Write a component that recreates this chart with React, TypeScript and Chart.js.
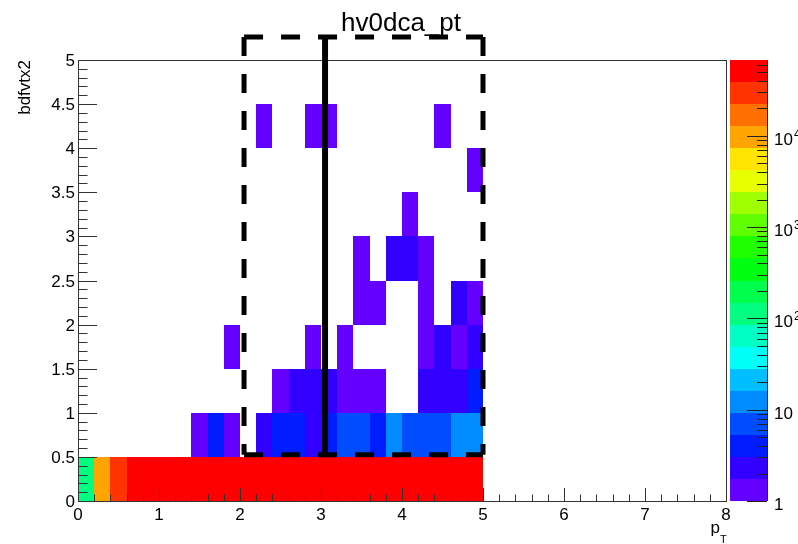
import { useEffect, useRef } from "react";
import { Chart, registerables } from "chart.js";

Chart.register(...registerables);

// Binning of the 2D histogram hv0dca_pt (pT on x, bdfvtx2 on y)
const ptBinWidth = 0.2;
const dcaBinWidth = 0.5;

// Bin contents per bdfvtx2 row (0-0.5, 0.5-1, ...), pT bins 0.0-0.2 ... 4.8-5.0; bins above 5 are empty
const row0 = [120, 9800, 30000, 65000, 63000, 61000, 59000, 57000, 55000, 53000, 51000, 49500, 48000, 46500, 45000, 44000, 43000, 42000, 41500, 41000, 40500, 40000, 39800, 39500, 39200];
const row1 = [0, 0, 0, 0, 0, 0, 0, 1, 4, 1, 0, 2, 4, 5, 3, 4, 7, 6, 4, 12, 8, 7, 6, 11, 13];
const row2 = [0, 0, 0, 0, 0, 0, 0, 0, 0, 0, 0, 0, 1, 2, 3, 2, 1, 1, 1, 0, 0, 2, 3, 2, 4];
const row3 = [0, 0, 0, 0, 0, 0, 0, 0, 0, 1, 0, 0, 0, 0, 1, 0, 1, 0, 0, 0, 0, 1, 2, 1, 2];
const row4 = [0, 0, 0, 0, 0, 0, 0, 0, 0, 0, 0, 0, 0, 0, 0, 0, 0, 1, 1, 0, 0, 1, 0, 2, 1];
const row5 = [0, 0, 0, 0, 0, 0, 0, 0, 0, 0, 0, 0, 0, 0, 0, 0, 0, 1, 0, 2, 2, 1, 0, 0, 0];
const row6 = [0, 0, 0, 0, 0, 0, 0, 0, 0, 0, 0, 0, 0, 0, 0, 0, 0, 0, 0, 0, 1, 0, 0, 0, 0];
const row7 = [0, 0, 0, 0, 0, 0, 0, 0, 0, 0, 0, 0, 0, 0, 0, 0, 0, 0, 0, 0, 0, 0, 0, 0, 1];
const row8 = [0, 0, 0, 0, 0, 0, 0, 0, 0, 0, 0, 1, 0, 0, 1, 1, 0, 0, 0, 0, 0, 0, 1, 0, 0];
const row9 = [0, 0, 0, 0, 0, 0, 0, 0, 0, 0, 0, 0, 0, 0, 0, 0, 0, 0, 0, 0, 0, 0, 0, 0, 0];
const rows = [row0, row1, row2, row3, row4, row5, row6, row7, row8, row9];

// Axis ranges and labels
const ptRange = [0, 8];
const dcaRange = [0, 5];
const xTickLabels = ["0", "1", "2", "3", "4", "5", "6", "7", "8"];
const yTickLabels = ["0", "0.5", "1", "1.5", "2", "2.5", "3", "3.5", "4", "4.5", "5"];

// Colour scale (log z)
const zMin = 1;
const zMax = 67600;
const zTickValues = [1, 10, 100, 1000, 10000];
const zTickBases = ["1", "10", "10", "10", "10"];
const zTickExps = ["", "", "2", "3", "4"];
const paletteColors = [
  "#6400ff", "#3200ff", "#001cff", "#004cff", "#008cff",
  "#00beff", "#00fff6", "#00ffc4", "#00ff80", "#00ff4c",
  "#00ff10", "#20ff00", "#60ff00", "#a0ff00", "#e8ff00",
  "#ffe400", "#ffa400", "#ff7000", "#ff3400", "#ff0000",
];

// Selection overlay: dashed window and solid cut line
const windowPt = [2.05, 5.0];
const windowDca = [0.525, 5.26];
const cutPt = 3.05;
const cutDca = [0.5, 5.26];

const FONT = "'Liberation Sans', Arial, Helvetica, sans-serif";

type Cell = { x: number; y: number; v: number };

const cells: Cell[] = [];
rows.forEach((row, iy) => {
  row.forEach((v, ix) => {
    if (v > 0) {
      cells.push({ x: (ix + 0.5) * ptBinWidth, y: (iy + 0.5) * dcaBinWidth, v });
    }
  });
});

const nBands = paletteColors.length;
const logSpan = Math.log10(zMax) - Math.log10(zMin);

function colorFor(v: number): string {
  const k = Math.floor((nBands * (Math.log10(v) - Math.log10(zMin))) / logSpan);
  return paletteColors[Math.max(0, Math.min(nBands - 1, k))];
}

const hist2dPlugin = {
  id: "hist2d",
  beforeDatasetsDraw(chart: any) {
    const { ctx } = chart;
    const x = chart.scales.x;
    const y = chart.scales.y;
    const data = chart.data.datasets[0].data as Cell[];
    ctx.save();
    for (const c of data) {
      const l = Math.round(x.getPixelForValue(c.x - ptBinWidth / 2));
      const r = Math.round(x.getPixelForValue(c.x + ptBinWidth / 2));
      const t = Math.round(y.getPixelForValue(c.y + dcaBinWidth / 2));
      const b = Math.round(y.getPixelForValue(c.y - dcaBinWidth / 2));
      ctx.fillStyle = colorFor(c.v);
      ctx.fillRect(l, t, r - l, b - t);
    }
    ctx.restore();
  },
};

const framePlugin = {
  id: "rootFrame",
  afterDraw(chart: any) {
    const { ctx, chartArea: ca } = chart;
    const x = chart.scales.x;
    const y = chart.scales.y;
    const z = chart.scales.z;
    ctx.save();

    // frame
    ctx.strokeStyle = "#333";
    ctx.lineWidth = 1;
    ctx.strokeRect(ca.left + 0.5, ca.top + 0.5, ca.right - ca.left, ca.bottom - ca.top);

    // x ticks (inside, from bottom)
    ctx.beginPath();
    for (let i = 0; i <= 40; i++) {
      const px = Math.round(x.getPixelForValue(i * 0.2)) + 0.5;
      const len = i % 5 === 0 ? 13 : 6.5;
      ctx.moveTo(px, ca.bottom);
      ctx.lineTo(px, ca.bottom - len);
    }
    // y ticks (inside, from left)
    for (let i = 0; i <= 50; i++) {
      const py = Math.round(y.getPixelForValue(i * 0.1)) + 0.5;
      const len = i % 5 === 0 ? 19 : 9.5;
      ctx.moveTo(ca.left, py);
      ctx.lineTo(ca.left + len, py);
    }
    ctx.stroke();

    // tick labels
    ctx.fillStyle = "#000";
    ctx.font = `17px ${FONT}`;
    ctx.textBaseline = "alphabetic";
    ctx.textAlign = "center";
    xTickLabels.forEach((lab, i) => {
      ctx.fillText(lab, x.getPixelForValue(i), ca.bottom + 19);
    });
    ctx.textAlign = "right";
    yTickLabels.forEach((lab, i) => {
      ctx.fillText(lab, ca.left - 3, y.getPixelForValue(i * 0.5) + 6);
    });

    // axis titles
    ctx.font = `17px ${FONT}`;
    ctx.textAlign = "right";
    ctx.fillText("p", ca.right - 6, ca.bottom + 32);
    ctx.font = `11px ${FONT}`;
    ctx.textAlign = "left";
    ctx.fillText("T", ca.right - 6, ca.bottom + 42);

    ctx.save();
    ctx.translate(25, ca.top);
    ctx.rotate(-Math.PI / 2);
    ctx.font = `17px ${FONT}`;
    ctx.textAlign = "right";
    ctx.textBaseline = "middle";
    ctx.fillText("bdfvtx2", 0, 0);
    ctx.restore();

    // title
    ctx.font = `26px ${FONT}`;
    ctx.textAlign = "center";
    ctx.textBaseline = "alphabetic";
    ctx.fillText("hv0dca_pt", 401, 31);

    // colour palette
    const palL = ca.right + 4;
    const palR = ca.right + 41;
    const step = logSpan / nBands;
    for (let k = 0; k < nBands; k++) {
      const yLo = Math.round(z.getPixelForValue(Math.pow(10, Math.log10(zMin) + k * step)));
      const yHi = Math.round(z.getPixelForValue(Math.pow(10, Math.log10(zMin) + (k + 1) * step)));
      ctx.fillStyle = paletteColors[k];
      ctx.fillRect(palL, yHi, palR - palL, yLo - yHi);
    }
    ctx.strokeStyle = "#222";
    ctx.lineWidth = 1;
    ctx.beginPath();
    ctx.moveTo(palR + 0.5, ca.top);
    ctx.lineTo(palR + 0.5, ca.bottom);
    for (let d = 0; d <= 4; d++) {
      for (let m = 1; m <= 9; m++) {
        const v = m * Math.pow(10, d);
        if (v > zMax) break;
        const py = Math.round(z.getPixelForValue(v)) + 0.5;
        const len = m === 1 ? 20 : 10;
        ctx.moveTo(palR, py);
        ctx.lineTo(palR - len, py);
      }
    }
    ctx.stroke();

    ctx.fillStyle = "#000";
    ctx.textAlign = "left";
    ctx.textBaseline = "alphabetic";
    zTickValues.forEach((v, i) => {
      const py = z.getPixelForValue(v) + 9;
      ctx.font = `17px ${FONT}`;
      ctx.fillText(zTickBases[i], palR + 7, py);
      if (zTickExps[i]) {
        const w = ctx.measureText(zTickBases[i]).width;
        ctx.font = `12px ${FONT}`;
        ctx.fillText(zTickExps[i], palR + 7 + w + 1, py - 7);
      }
    });

    // selection window and cut line
    const wl = x.getPixelForValue(windowPt[0]);
    const wr = x.getPixelForValue(windowPt[1]);
    const wt = y.getPixelForValue(windowDca[1]);
    const wb = y.getPixelForValue(windowDca[0]);
    ctx.strokeStyle = "#000";
    ctx.lineWidth = 5;
    ctx.setLineDash([19, 18]);
    ctx.beginPath();
    ctx.moveTo(wl, wt);
    ctx.lineTo(wr, wt);
    ctx.moveTo(wr, wt);
    ctx.lineTo(wr, wb);
    ctx.moveTo(wl, wb);
    ctx.lineTo(wr, wb);
    ctx.moveTo(wl, wt);
    ctx.lineTo(wl, wb);
    ctx.stroke();

    ctx.setLineDash([]);
    ctx.lineWidth = 6;
    ctx.beginPath();
    const cx = x.getPixelForValue(cutPt);
    ctx.moveTo(cx, y.getPixelForValue(cutDca[1]));
    ctx.lineTo(cx, y.getPixelForValue(cutDca[0]));
    ctx.stroke();

    ctx.restore();
  },
};

export default function App() {
  const canvasRef = useRef<HTMLCanvasElement | null>(null);

  useEffect(() => {
    if (!canvasRef.current) return;
    const chart = new Chart(canvasRef.current, {
      type: "scatter",
      data: {
        datasets: [
          {
            label: "hv0dca_pt",
            data: cells as any,
            pointRadius: 0,
            pointHoverRadius: 0,
          },
        ],
      },
      options: {
        animation: false,
        responsive: false,
        devicePixelRatio: 1,
        events: [],
        layout: { padding: { left: 78, right: 72, top: 60, bottom: 43 } },
        plugins: { legend: { display: false }, tooltip: { enabled: false } },
        scales: {
          x: { type: "linear", min: ptRange[0], max: ptRange[1], display: false },
          y: { type: "linear", min: dcaRange[0], max: dcaRange[1], display: false },
          z: { type: "logarithmic", axis: "y", position: "right", min: zMin, max: zMax, display: false },
        },
      },
      plugins: [hist2dPlugin, framePlugin],
    });
    return () => chart.destroy();
  }, []);

  return (
    <div style={{ position: "absolute", left: 0, top: 0, width: 798, height: 544, background: "#fff" }}>
      <canvas ref={canvasRef} width={798} height={544} style={{ display: "block" }} />
    </div>
  );
}
